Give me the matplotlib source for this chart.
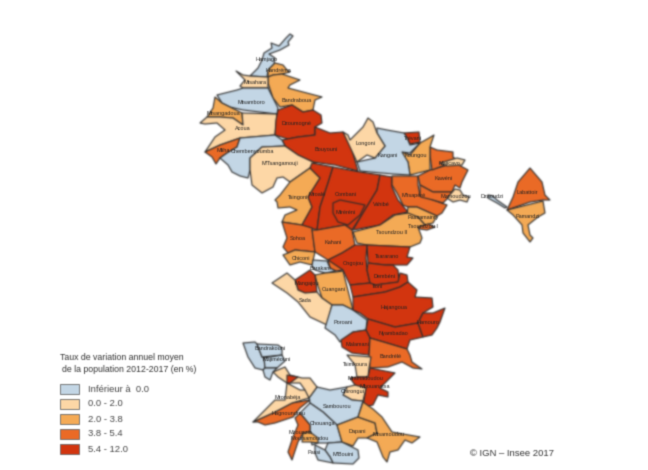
import numpy as np
import matplotlib
matplotlib.use('Agg')
import matplotlib.pyplot as plt
from matplotlib.collections import PolyCollection
from matplotlib.patches import Rectangle

plt.rcParams['font.family'] = ['Liberation Sans', 'DejaVu Sans']

# classes of the legend
class_labels = ['Inférieur à  0.0', '0.0 - 2.0', '2.0 - 3.8', '3.8 - 5.4', '5.4 - 12.0']
class_colors = ['#c3d6e5', '#fdd7a6', '#f4aa55', '#ea6a26', '#d2350f']

# class of each outline below, same order
commune_classes = [0, 2, 2, 1, 0, 2, 1,
                   4, 4, 3, 0, 1, 2,
                   4, 4, 4, 4, 3, 3, 3,
                   1, 3, 1, 2, 4, 0,
                   1, 3, 2, 0, 2, 3,
                   2, 3, 3, 2, 0, 3, 2,
                   4, 1, 0, 4, 4, 4, 4,
                   4, 4, 4, 4, 3, 1,
                   4, 1, 0, 0, 0, 0,
                   2, 2, 3, 2, 3, 1,
                   1, 4, 0, 0, 0, 0]

commune_outlines = [
    [(290, 34), (293, 36), (288, 42), (289, 45), (280, 50), (269, 54), (275, 58), (274, 64), (268, 70), (267, 77), (250, 76), (258, 68), (262, 60), (264, 53), (272, 48), (271, 43), (279, 46), (286, 38)],
    [(275, 63), (283, 65), (287, 70), (290, 72), (282, 74), (273, 75), (268, 77), (268, 70)],
    [(268, 77), (273, 75), (282, 74), (300, 80), (290, 85), (288, 88), (303, 92), (322, 97), (315, 100), (313, 110), (303, 112), (292, 105), (280, 107), (273, 98), (268, 83)],
    [(236, 71), (243, 75), (250, 76), (268, 77), (268, 88), (243, 88), (240, 86), (245, 80)],
    [(217, 95), (237, 90), (243, 88), (268, 88), (273, 98), (278, 108), (277, 114), (243, 110), (230, 107), (222, 103)],
    [(215, 97), (222, 103), (230, 107), (242, 113), (243, 125), (233, 118), (220, 117), (207, 117), (213, 108)],
    [(200, 123), (207, 117), (220, 117), (233, 118), (243, 125), (242, 113), (277, 114), (275, 135), (240, 138), (220, 145), (205, 152), (215, 137), (225, 130), (217, 123), (205, 124)],
    [(276, 120), (278, 110), (292, 105), (303, 112), (313, 110), (321, 115), (322, 123), (315, 127), (315, 135), (298, 137), (288, 139), (275, 135)],
    [(282, 140), (298, 137), (315, 135), (315, 127), (330, 133), (343, 132), (349, 140), (358, 171), (335, 165), (313, 162), (298, 155), (285, 146)],
    [(205, 152), (220, 145), (240, 138), (237, 147), (227, 153), (220, 158), (216, 164), (212, 157)],
    [(240, 138), (275, 135), (282, 140), (285, 146), (262, 147), (250, 158), (250, 170), (248, 178), (240, 176), (232, 172), (228, 165), (220, 158), (227, 153), (237, 147)],
    [(262, 147), (285, 146), (298, 155), (315, 163), (310, 168), (290, 182), (283, 177), (277, 178), (273, 187), (262, 193), (252, 185), (250, 170), (250, 158)],
    [(310, 168), (320, 178), (308, 197), (312, 207), (302, 225), (282, 222), (285, 215), (297, 210), (290, 207), (278, 208), (277, 202), (275, 200), (280, 195), (290, 182)],
    [(312, 163), (333, 167), (328, 183), (320, 207), (317, 230), (302, 225), (312, 207), (308, 197), (320, 178), (310, 168)],
    [(333, 167), (360, 172), (380, 175), (377, 190), (363, 213), (352, 230), (345, 225), (317, 230), (320, 207), (328, 183)],
    [(333, 203), (340, 200), (350, 202), (365, 205), (360, 215), (348, 225), (338, 222), (333, 213)],
    [(380, 175), (392, 177), (392, 187), (398, 200), (408, 212), (393, 215), (380, 225), (353, 230), (363, 213), (377, 190)],
    [(392, 176), (418, 176), (418, 185), (420, 195), (433, 200), (447, 205), (442, 213), (437, 216), (417, 207), (408, 207), (403, 205), (397, 193), (392, 185)],
    [(418, 176), (430, 170), (455, 163), (468, 170), (462, 182), (460, 188), (455, 185), (452, 192), (433, 192), (420, 185)],
    [(420, 185), (433, 192), (452, 192), (448, 198), (443, 203), (433, 200), (421, 197), (420, 195)],
    [(447, 198), (455, 189), (460, 190), (463, 195), (469, 197), (467, 202), (460, 200), (453, 202)],
    [(430, 147), (437, 150), (453, 152), (453, 157), (457, 160), (450, 163), (432, 170), (430, 155)],
    [(440, 163), (457, 158), (465, 160), (462, 165), (447, 166)],
    [(402, 152), (410, 155), (420, 143), (429, 138), (434, 135), (430, 147), (430, 170), (410, 175), (408, 162), (402, 157)],
    [(404, 133), (419, 132), (420, 142), (410, 144), (407, 138)],
    [(377, 128), (387, 130), (404, 133), (407, 138), (410, 145), (420, 143), (410, 153), (402, 152), (408, 162), (410, 175), (393, 174), (360, 171), (357, 162), (375, 158), (385, 146), (377, 133)],
    [(343, 132), (348, 135), (350, 140), (363, 127), (368, 118), (373, 122), (377, 133), (385, 146), (375, 158), (367, 155), (357, 162)],
    [(530, 168), (542, 182), (545, 195), (550, 200), (543, 200), (530, 202), (507, 210), (513, 197), (518, 182)],
    [(507, 210), (543, 201), (545, 213), (538, 217), (528, 225), (530, 235), (533, 238), (530, 242), (523, 233), (522, 225), (513, 215)],
    [(488, 195), (493, 196), (497, 200), (507, 207), (505, 208), (497, 203), (488, 198)],
    [(408, 207), (417, 207), (437, 216), (433, 223), (425, 225), (418, 217), (407, 215)],
    [(418, 227), (428, 224), (435, 227), (427, 230), (420, 229)],
    [(353, 232), (380, 225), (395, 215), (408, 213), (418, 217), (425, 225), (418, 227), (422, 238), (420, 243), (410, 247), (367, 245), (357, 243)],
    [(282, 222), (302, 225), (312, 228), (315, 252), (295, 250), (288, 253), (283, 247), (287, 238)],
    [(312, 230), (317, 230), (345, 225), (352, 230), (355, 245), (342, 253), (328, 260), (315, 252)],
    [(283, 255), (288, 253), (295, 250), (315, 252), (312, 265), (300, 262), (290, 265)],
    [(313, 260), (327, 261), (330, 268), (336, 271), (325, 273), (315, 270), (312, 266)],
    [(328, 260), (332, 260), (343, 270), (336, 271), (330, 268)],
    [(315, 275), (325, 273), (336, 272), (343, 271), (353, 310), (343, 305), (332, 305), (322, 298), (317, 283)],
    [(295, 280), (310, 270), (315, 275), (317, 292), (305, 293), (298, 290)],
    [(272, 283), (287, 273), (295, 280), (298, 290), (305, 293), (317, 292), (322, 298), (332, 305), (327, 325), (310, 317), (298, 302), (287, 293)],
    [(332, 305), (343, 305), (353, 310), (367, 320), (366, 330), (353, 332), (340, 342), (335, 335), (325, 328)],
    [(355, 245), (367, 245), (366, 258), (367, 270), (370, 283), (350, 285), (343, 270), (328, 260), (342, 253)],
    [(367, 245), (410, 247), (407, 257), (413, 258), (407, 265), (393, 265), (385, 265), (368, 263)],
    [(368, 263), (385, 265), (393, 265), (398, 270), (399, 282), (375, 285), (370, 283), (367, 270)],
    [(350, 285), (370, 283), (375, 285), (398, 282), (400, 273), (407, 275), (408, 282), (400, 287), (385, 292), (353, 297)],
    [(353, 297), (385, 292), (400, 287), (408, 282), (417, 290), (415, 297), (432, 298), (433, 307), (423, 313), (418, 323), (395, 327), (368, 319), (360, 313), (353, 310)],
    [(368, 319), (395, 327), (418, 323), (423, 337), (410, 340), (407, 349), (387, 343), (370, 338), (366, 330)],
    [(418, 323), (423, 313), (433, 313), (445, 308), (440, 322), (437, 328), (432, 335), (423, 337)],
    [(341, 340), (353, 332), (366, 330), (370, 338), (369, 355), (352, 353), (342, 347)],
    [(370, 338), (387, 343), (407, 349), (410, 355), (412, 362), (422, 369), (413, 368), (402, 362), (388, 367), (370, 368), (369, 355)],
    [(347, 355), (371, 357), (369, 368), (368, 377), (357, 377), (355, 365)],
    [(350, 378), (357, 377), (368, 377), (370, 368), (395, 373), (385, 383), (380, 388), (388, 392), (388, 397), (378, 395), (373, 405), (363, 407), (366, 388), (355, 385)],
    [(343, 395), (347, 387), (355, 385), (366, 388), (363, 401), (352, 400)],
    [(309, 398), (317, 387), (330, 390), (347, 387), (343, 395), (352, 400), (363, 401), (358, 417), (337, 425), (323, 412), (310, 403)],
    [(300, 413), (310, 403), (323, 412), (337, 425), (342, 442), (328, 443), (318, 443), (312, 445), (310, 435), (310, 425)],
    [(328, 443), (342, 442), (358, 450), (359, 458), (353, 464), (333, 463), (330, 457), (325, 450)],
    [(315, 445), (325, 450), (330, 457), (333, 463), (318, 460), (315, 453)],
    [(337, 425), (358, 417), (375, 423), (377, 433), (367, 438), (358, 438), (353, 446), (342, 442)],
    [(363, 402), (373, 409), (382, 417), (392, 432), (420, 437), (412, 443), (405, 440), (398, 450), (390, 452), (387, 462), (383, 457), (377, 442), (367, 438), (377, 433), (375, 423), (358, 417)],
    [(300, 413), (310, 425), (310, 432), (303, 433), (298, 442), (292, 460), (288, 452), (293, 437), (298, 425), (295, 418)],
    [(303, 433), (310, 432), (318, 438), (318, 443), (310, 442), (302, 442)],
    [(253, 422), (275, 412), (292, 403), (310, 400), (300, 408), (293, 417), (275, 423), (265, 425), (258, 422)],
    [(287, 383), (300, 390), (307, 390), (309, 398), (292, 403), (275, 412), (253, 422), (275, 400), (285, 400)],
    [(273, 372), (285, 367), (290, 375), (302, 378), (310, 378), (317, 387), (309, 398), (305, 390), (300, 383), (287, 383), (278, 377)],
    [(287, 375), (298, 377), (290, 383), (287, 383)],
    [(243, 343), (255, 342), (257, 344), (262, 357), (264, 358), (265, 368), (263, 370), (255, 368), (248, 357)],
    [(257, 344), (278, 345), (282, 348), (282, 355), (262, 357)],
    [(264, 358), (282, 355), (285, 361), (277, 368), (265, 368)],
    [(265, 368), (277, 368), (273, 372), (270, 380), (265, 377), (263, 370)],
]

label_names = ['Hamjago', 'Handréma', 'Mtsahara', 'Bandraboua', 'Mtsamboro', 'Mtsangadoua', 'Acoua',
               'Dzoumogné', 'Bouyouni', 'Mliha', 'Chembenyoumba', "M'Tsangamouji", 'Longoni',
               'Kangani', 'Koungou', 'Trévani', 'Majicavo', 'Kawéni', "M'tsapéré", 'Mamoudzou',
               'Dzaoudzi', 'Labattoir', 'Pamandzi', 'Tsingoni', 'Mroalé', 'Combani', 'Miréréni',
               'Vahibé', 'Passamainty', 'Tsoundzou I', 'Tsoundzou II', 'Sohoa', 'Kahani', 'Chiconi',
               'Barakani', 'Ongojou', 'Tsararano', 'Dembéni', 'Iloni', 'Hajangoua', 'Nyambadao',
               'Hamouro', 'Ouangani', 'Mangajou', 'Sada', 'Poroani', 'Malamani', 'Bandrélé',
               'Tsimkoura', 'Mramadoudou', 'Mbouanatsa', 'Chirongui', 'Sambourou', 'Chouanga',
               'Dapani', 'Mtsamoudou', "M'Bouini", 'Passi', 'Mronabéja', 'Hagnoundrou', 'Mzouazia',
               'Moutsamoudou', 'Bandrakouni', 'Majiméouni']
label_xy = [(267, 60), (278, 71), (255, 83), (297, 100), (251, 102), (223, 113), (243, 128),
            (296, 124), (326, 149), (223, 151), (252, 152), (280, 164), (366, 143),
            (388, 156), (416, 156), (413, 139), (449, 163), (444, 178), (414, 195), (456, 196),
            (492, 197), (527, 192), (528, 216), (298, 198), (317, 194), (346, 194), (346, 212),
            (381, 205), (423, 217), (423, 227), (392, 232), (298, 238), (333, 242), (301, 259),
            (320, 268), (353, 264), (387, 256), (385, 276), (378, 287), (394, 307), (393, 333),
            (428, 323), (334, 289), (307, 283), (305, 300), (343, 323), (357, 344), (390, 356),
            (355, 364), (365, 379), (375, 387), (353, 392), (337, 406), (322, 424),
            (357, 432), (389, 434), (343, 454), (314, 452), (288, 398), (288, 413), (300, 432),
            (310, 438), (270, 348), (277, 359)]

legend_y = [384, 399, 414, 429, 444]


def soften(img, dpi):
    # the source is a blurred scan, small binomial blur on the artist
    pad = 2
    a = np.pad(img, ((pad, pad), (pad, pad), (0, 0)))
    a[..., :3] *= a[..., 3:]
    k = 0.18
    for axis in (0, 1):
        a = k * np.roll(a, 1, axis) + (1 - 2 * k) * a + k * np.roll(a, -1, axis)
    alpha = a[..., 3:]
    a[..., :3] = np.divide(a[..., :3], alpha, out=np.zeros_like(a[..., :3]), where=alpha > 0)
    return a, -pad, -pad


fig = plt.figure(figsize=(6.48, 4.70), dpi=100)
ax = fig.add_axes([0, 0, 1, 1])
ax.set_xlim(0, 648)
ax.set_ylim(470, 0)
ax.axis('off')

communes = PolyCollection(commune_outlines, facecolors=[class_colors[c] for c in commune_classes],
                          edgecolors='#2a2a2a', linewidths=0.8)
communes.set_agg_filter(soften)
ax.add_collection(communes)

# commune names, very small as in the source map
for name, (x, y) in zip(label_names, label_xy):
    t = ax.text(x, y, name, fontsize=4, color='#222222', ha='center', va='center')
    t.set_agg_filter(soften)

# legend
t1 = ax.text(60, 357, 'Taux de variation annuel moyen', fontsize=6.3, color='#333333', va='center')
t2 = ax.text(62, 370, 'de la population 2012-2017 (en %)', fontsize=6.3, color='#333333', va='center')
t3 = ax.text(470, 453, '© IGN – Insee 2017', fontsize=6.8, color='#333333', va='center')
for t in (t1, t2, t3):
    t.set_agg_filter(soften)
for y, label, color in zip(legend_y, class_labels, class_colors):
    r = ax.add_patch(Rectangle((59.5, y), 19, 9.5, facecolor=color, edgecolor='#666666', linewidth=0.6))
    r.set_agg_filter(soften)
    t = ax.text(88, y + 5, label, fontsize=6.8, color='#444444', va='center')
    t.set_agg_filter(soften)

fig.savefig('out.png', dpi=100, facecolor='white')
